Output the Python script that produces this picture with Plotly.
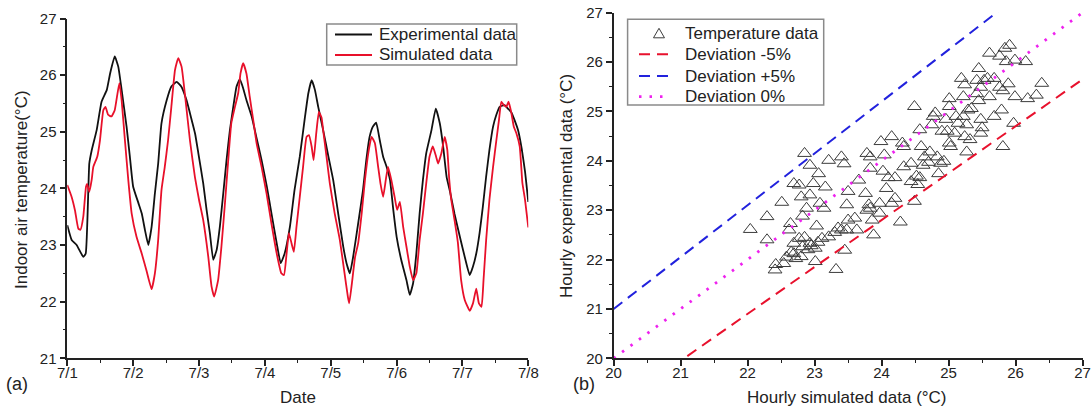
import plotly.graph_objects as go

# ---- (a) indoor air temperature time series, days counted from 7/1 00:00 ----
exp_day = [0.0, 0.066, 0.142, 0.243, 0.28, 0.334, 0.37, 0.446, 0.52, 0.60, 0.65, 0.72, 0.774, 0.825,
           0.90, 0.95, 1.00, 1.08, 1.13, 1.18, 1.23, 1.28, 1.33, 1.38, 1.43, 1.51, 1.58, 1.66, 1.73,
           1.81, 1.862, 1.94, 1.99, 2.064, 2.115, 2.165, 2.216, 2.267, 2.317, 2.368, 2.418, 2.469,
           2.52, 2.57, 2.62, 2.67, 2.72, 2.80, 2.87, 2.95, 3.03, 3.10, 3.18, 3.24, 3.30, 3.38, 3.45,
           3.53, 3.61, 3.66, 3.71, 3.76, 3.81, 3.885, 3.96, 4.037, 4.113, 4.19, 4.24, 4.29, 4.34,
           4.416, 4.49, 4.54, 4.59, 4.64, 4.69, 4.745, 4.796, 4.846, 4.90, 4.95, 5.00, 5.07, 5.15,
           5.20, 5.25, 5.30, 5.35, 5.40, 5.45, 5.53, 5.595, 5.656, 5.706, 5.76, 5.81, 5.88, 5.96,
           6.035, 6.11, 6.16, 6.21, 6.26, 6.31, 6.36, 6.41, 6.465, 6.515, 6.565, 6.64, 6.69, 6.74,
           6.79, 6.844, 6.90, 6.95, 7.0]
exp_temp = [23.35, 23.09, 23.00, 22.79, 22.85, 24.44, 24.67, 25.03, 25.53, 25.74, 26.03, 26.33, 26.15,
            25.74, 25.09, 24.56, 24.03, 23.74, 23.56, 23.26, 23.00, 23.32, 23.91, 24.44, 25.15, 25.56,
            25.80, 25.88, 25.80, 25.56, 25.33, 24.97, 24.62, 24.09, 23.62, 23.21, 22.74, 22.91, 23.33,
            23.91, 24.50, 25.03, 25.44, 25.80, 25.93, 25.77, 25.56, 25.27, 24.91, 24.50, 24.03, 23.56,
            23.03, 22.68, 22.85, 23.32, 23.97, 24.56, 25.27, 25.68, 25.91, 25.74, 25.44, 25.03, 24.59,
            24.15, 23.56, 22.97, 22.68, 22.50, 22.79, 23.38, 23.97, 24.50, 24.91, 25.09, 25.16, 24.85,
            24.56, 24.39, 24.15, 23.62, 23.15, 22.74, 22.38, 22.12, 22.32, 22.85, 23.56, 24.15, 24.62,
            25.03, 25.41, 25.15, 24.75, 24.20, 23.95, 23.55, 23.15, 22.79, 22.47, 22.62, 22.85, 23.21,
            23.68, 24.21, 24.68, 25.09, 25.30, 25.44, 25.47, 25.41, 25.35, 25.21, 25.03, 24.70, 24.30,
            23.76]

sim_day = [0.0, 0.066, 0.117, 0.167, 0.20, 0.243, 0.284, 0.30, 0.334, 0.37, 0.395, 0.455, 0.496, 0.547,
           0.58, 0.62, 0.67, 0.72, 0.79, 0.825, 0.875, 0.926, 0.977, 1.05, 1.13, 1.20, 1.28, 1.33,
           1.38, 1.43, 1.48, 1.53, 1.58, 1.635, 1.685, 1.735, 1.79, 1.862, 1.938, 2.0, 2.064, 2.14,
           2.19, 2.23, 2.29, 2.34, 2.39, 2.44, 2.49, 2.545, 2.595, 2.63, 2.67, 2.72, 2.77, 2.823,
           2.874, 2.95, 3.026, 3.10, 3.18, 3.25, 3.29, 3.33, 3.365, 3.405, 3.44, 3.48, 3.53, 3.58,
           3.633, 3.67, 3.71, 3.74, 3.78, 3.82, 3.86, 3.885, 3.936, 3.986, 4.06, 4.138, 4.21, 4.26,
           4.28, 4.315, 4.37, 4.416, 4.47, 4.52, 4.57, 4.62, 4.67, 4.72, 4.755, 4.796, 4.836, 4.87,
           4.92, 4.97, 5.008, 5.05, 5.10, 5.15, 5.20, 5.25, 5.30, 5.35, 5.40, 5.45, 5.50, 5.55, 5.60,
           5.63, 5.68, 5.73, 5.77, 5.80, 5.83, 5.88, 5.93, 5.98, 6.035, 6.11, 6.16, 6.21, 6.25, 6.29,
           6.32, 6.36, 6.41, 6.465, 6.515, 6.555, 6.59, 6.63, 6.666, 6.70, 6.74, 6.78, 6.82, 6.87,
           6.91, 6.95, 7.0]
sim_temp = [24.06, 23.85, 23.61, 23.29, 23.27, 23.50, 24.03, 24.08, 23.94, 24.15, 24.38, 24.56, 24.85,
            25.38, 25.44, 25.30, 25.27, 25.38, 25.86, 25.56, 24.85, 24.15, 23.56, 23.15, 22.85, 22.56,
            22.22, 22.50, 23.09, 23.97, 24.38, 24.85, 25.44, 26.09, 26.30, 26.15, 25.62, 24.85, 24.20,
            23.80, 23.44, 22.80, 22.27, 22.09, 22.38, 22.97, 23.68, 24.44, 25.15, 25.44, 25.68, 26.03,
            26.21, 26.03, 25.62, 25.21, 24.80, 24.38, 23.91, 23.38, 22.85, 22.50, 22.47, 22.85, 23.21,
            23.03, 22.88, 23.32, 23.85, 24.38, 24.91, 24.94, 24.74, 24.50, 24.97, 25.35, 25.25, 25.03,
            24.56, 24.09, 23.56, 23.09, 22.50, 22.09, 21.97, 22.26, 22.79, 23.03, 23.56, 24.15, 24.62,
            24.91, 24.80, 24.38, 24.09, 23.85, 24.15, 24.38, 24.15, 23.85, 23.62, 23.76, 23.32, 22.97,
            22.62, 22.38, 22.50, 23.09, 23.56, 24.09, 24.56, 24.74, 24.56, 24.44, 24.62, 24.91, 24.68,
            24.15, 23.80, 23.44, 23.05, 22.38, 22.03, 21.84, 21.97, 22.23, 21.97, 21.91, 22.38, 23.09,
            23.80, 24.38, 24.85, 25.21, 25.53, 25.47, 25.44, 25.53, 25.35, 25.09, 24.97, 24.74, 24.10,
            23.80, 23.31]

date_ticks = [0, 1, 2, 3, 4, 5, 6, 7]
date_labels = ["7/1", "7/2", "7/3", "7/4", "7/5", "7/6", "7/7", "7/8"]

# ---- (b) hourly simulated vs. experimental temperatures ----
hourly_sim = [22.04, 22.29, 22.29, 22.51, 22.42, 22.41, 22.54, 22.62, 22.64, 22.69, 22.77, 22.85, 22.93,
              22.80, 22.93, 22.88, 22.82, 22.69, 22.77, 22.82, 22.93, 22.69, 22.72, 22.80, 22.98, 23.06,
              23.08, 23.14, 23.03, 23.01, 23.01, 23.11, 23.21, 23.16, 23.21, 23.32, 23.35, 23.40, 23.44,
              23.45, 23.48, 23.48, 23.50, 23.50, 23.60, 23.63, 23.66, 23.76, 23.78, 23.83, 23.83, 23.81,
              23.78, 23.83, 23.86, 23.88, 23.97, 23.97, 23.99, 24.02, 24.04, 24.10, 24.07, 24.15, 24.15,
              24.20, 24.20, 24.28, 24.31, 24.33, 24.33, 24.44, 24.44, 24.49, 24.49, 24.52, 24.54, 24.57,
              24.57, 24.59, 24.62, 24.64, 24.70, 24.72, 24.75, 24.77, 24.80, 24.83, 24.85, 24.88, 24.90,
              24.93, 24.96, 24.98, 25.01, 25.01, 25.01, 25.03, 25.09, 25.11, 25.14, 25.19, 25.22, 25.24,
              25.22, 25.24, 25.27, 25.27, 25.29, 25.32, 25.34, 25.42, 25.42, 25.45, 25.45, 25.48, 25.48,
              25.48, 25.50, 25.53, 25.58, 25.61, 25.61, 25.68, 25.68, 25.76, 25.76, 25.79, 25.81, 25.81,
              25.84, 25.89, 25.86, 25.91, 25.97, 25.99, 25.99, 26.15, 26.18, 26.31, 26.39,
              22.58, 22.65, 22.90, 22.95, 23.05, 22.85, 23.30, 23.40]
hourly_exp = [22.61, 22.87, 22.40, 23.16, 21.90, 21.79, 21.92, 22.60, 22.73, 23.54, 23.51, 24.15, 23.91,
              23.27, 23.31, 23.04, 22.88, 22.33, 22.43, 22.26, 22.33, 22.12, 22.02, 22.06, 23.54, 23.74,
              23.14, 23.04, 22.68, 22.23, 21.96, 22.43, 22.46, 23.47, 24.01, 21.80, 22.64, 24.08, 23.94,
              22.19, 22.60, 23.11, 23.38, 22.80, 22.84, 22.60, 23.61, 23.34, 24.15, 24.08, 23.85, 23.11,
              23.00, 23.04, 22.80, 22.50, 23.14, 22.94, 24.39, 23.79, 24.12, 23.66, 23.44, 24.49, 23.14,
              23.24, 23.66, 22.76, 24.36, 24.29, 23.88, 23.95, 23.58, 25.10, 23.18, 23.69, 23.52, 24.63,
              23.66, 24.29, 23.91, 24.08, 23.97, 24.18, 24.73, 24.90, 24.97, 24.08, 23.74, 23.95, 24.60,
              23.99, 24.84, 24.60, 25.26, 25.10, 24.36, 24.29, 24.56, 24.90, 24.76, 25.67, 25.30, 25.54,
              24.90, 24.49, 24.73, 24.18, 25.03, 24.43, 25.06, 25.63, 25.36, 25.87, 25.22, 25.49, 24.84,
              24.56, 24.67, 25.63, 25.67, 26.18, 25.30, 25.67, 24.90, 25.49, 26.12, 25.03, 25.42, 24.29,
              26.28, 25.56, 26.01, 26.34, 24.76, 26.04, 25.30, 26.01, 25.26, 25.33, 25.57,
              22.05, 22.15, 22.20, 22.28, 22.35, 22.45, 22.55, 22.60]

deviation_pct = [-5, 5, 0]
deviation_names = ["Deviation -5%", "Deviation +5%", "Deviation 0%"]
deviation_colors = ["#e8112d", "#2222dd", "#ee22ee"]
deviation_dash = ["11px,7px", "11px,7px", "2.5px,8px"]
sim_range = [20, 27]

FONT = "Liberation Sans, Arial, sans-serif"
INK = "#222222"
EXP_COLOR, SIM_COLOR, TRI_COLOR = "#111111", "#e8102a", "#3c3c3c"

W, H = 1091, 411


def px(x, y):
    """Pixel position on the page -> paper coordinates."""
    return x / W, 1 - y / H


fig = go.Figure()

fig.add_trace(go.Scatter(x=exp_day, y=exp_temp, mode="lines", name="Experimental data",
                         line=dict(color=EXP_COLOR, width=1.8, shape="spline", smoothing=0.4),
                         xaxis="x", yaxis="y"))
fig.add_trace(go.Scatter(x=sim_day, y=sim_temp, mode="lines", name="Simulated data",
                         line=dict(color=SIM_COLOR, width=1.8, shape="spline", smoothing=0.4),
                         xaxis="x", yaxis="y"))

fig.add_trace(go.Scatter(x=hourly_sim, y=hourly_exp, mode="markers", name="Temperature data",
                         marker=dict(symbol="triangle-up-open", size=12, color=TRI_COLOR,
                                     line=dict(width=1)),
                         xaxis="x2", yaxis="y2"))
for pct, name, col, dash in zip(deviation_pct, deviation_names, deviation_colors, deviation_dash):
    ys = [v * (1 + pct / 100) for v in sim_range]
    fig.add_trace(go.Scatter(x=sim_range, y=ys, mode="lines", name=name,
                             line=dict(color=col, width=2 if pct else 2.8, dash=dash),
                             xaxis="x2", yaxis="y2"))

# ---- compact framed legends (tight row spacing) ----
shapes, annotations = [], []


def legend_box(x0, y0, x1, y1):
    a, b = px(x0, y0)
    c, d = px(x1, y1)
    shapes.append(dict(type="rect", xref="paper", yref="paper", x0=a, y0=d, x1=c, y1=b,
                       line=dict(color="#8a8a8a", width=1.5), fillcolor="white", layer="above"))


def legend_line(x0, x1, y, color, width, dash="solid"):
    a, b = px(x0, y)
    c, _ = px(x1, y)
    shapes.append(dict(type="line", xref="paper", yref="paper", x0=a, y0=b, x1=c, y1=b,
                       line=dict(color=color, width=width, dash=dash), layer="above"))


def legend_triangle(cx, cy, color):
    pts = [px(cx - 5.5, cy + 4.5), px(cx + 5.5, cy + 4.5), px(cx, cy - 5)]
    path = "M {:.5f},{:.5f} L {:.5f},{:.5f} L {:.5f},{:.5f} Z".format(*pts[0], *pts[1], *pts[2])
    shapes.append(dict(type="path", xref="paper", yref="paper", path=path,
                       line=dict(color=color, width=1), fillcolor="rgba(0,0,0,0)", layer="above"))


def legend_text(text, x, y):
    a, b = px(x, y)
    annotations.append(dict(text=text, x=a, y=b, xref="paper", yref="paper", xanchor="left",
                            yanchor="middle", showarrow=False, font=dict(size=17)))


legend_box(326.7, 24, 516.7, 65)
for row_y, name, col in zip([34.5, 55], ["Experimental data", "Simulated data"], [EXP_COLOR, SIM_COLOR]):
    legend_line(335, 372, row_y, col, 1.8)
    legend_text(name, 377, row_y)

legend_box(627.6, 19.3, 823.7, 105)
legend_triangle(659, 33.3, TRI_COLOR)
legend_text("Temperature data", 682.6, 33.3)
for row_y, name, col, dash, pct in zip([54.3, 76, 96.7], deviation_names, deviation_colors,
                                       deviation_dash, deviation_pct):
    legend_line(639, 668, row_y, col, 2 if pct else 2.8, dash)
    legend_text(name, 682.6, row_y)


def label(text, x, y, size=17, angle=0):
    a, b = px(x, y)
    annotations.append(dict(text=text, x=a, y=b, xref="paper", yref="paper",
                            xanchor="center", yanchor="middle", textangle=angle, showarrow=False,
                            font=dict(size=size)))


label("Indoor air temperature(°C)", 21, 190, 17, -90)
label("Date", 298, 397)
label("(a)", 17, 384, 18)
label("Hourly experimental data (°C)", 566, 186, 17, -90)
label("Hourly simulated data (°C)", 847, 397)
label("(b)", 584, 384, 18)

axis_common = dict(showline=True, linecolor=INK, linewidth=1.5, ticks="outside", ticklen=6,
                   tickwidth=1.5, tickcolor=INK, showgrid=False, zeroline=False, mirror=False,
                   automargin=False,
                   tickfont=dict(family=FONT, size=15, color=INK),
                   minor=dict(ticks="outside", ticklen=3, tickwidth=1.2, tickcolor=INK, dtick=0.5))

fig.update_layout(
    width=W, height=H, autosize=False, showlegend=False,
    margin=dict(l=0, r=0, t=0, b=0, pad=0, autoexpand=False),
    paper_bgcolor="white", plot_bgcolor="white",
    font=dict(family=FONT, color=INK),
    xaxis=dict(axis_common, domain=[67.3 / W, 528.3 / W], range=[0, 7], ticklabelstandoff=-6,
               tickmode="array", tickvals=date_ticks, ticktext=date_labels, anchor="y"),
    yaxis=dict(axis_common, domain=[1 - 358.3 / H, 1 - 18.5 / H], range=[21, 27], dtick=1, anchor="x"),
    xaxis2=dict(axis_common, domain=[613.6 / W, 1082.6 / W], range=sim_range, dtick=1,
                ticklabelstandoff=-6, anchor="y2"),
    yaxis2=dict(axis_common, domain=[1 - 358.3 / H, 1 - 12.7 / H], range=sim_range, dtick=1, anchor="x2"),
    shapes=shapes,
    annotations=annotations,
)

fig.write_html("out.html")
